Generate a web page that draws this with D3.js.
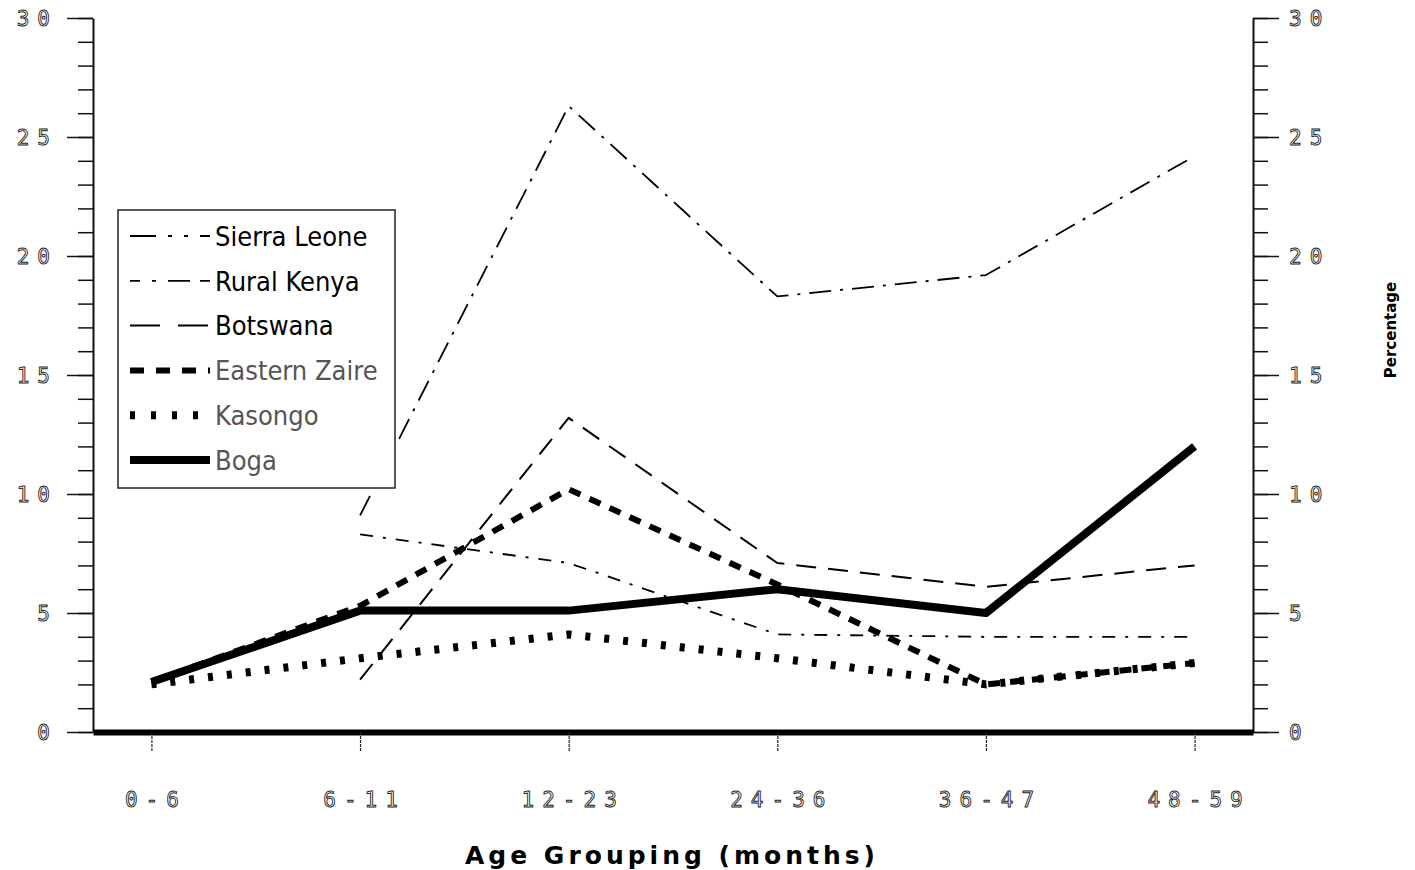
<!DOCTYPE html>
<html>
<head>
<meta charset="utf-8">
<script src="https://cdn.jsdelivr.net/npm/d3@7"></script>
<style>
  body { margin: 0; background: #fff; }
  svg { display: block; }
  .tick-num { font-family: "DejaVu Sans Mono", monospace; font-size: 21px; fill: #fff; stroke: #222; stroke-width: 0.9px; letter-spacing: 8px; }
</style>
</head>
<body>
<script>
// ---------------- data ----------------
const ageGroups = ["0-6", "6-11", "12-23", "24-36", "36-47", "48-59"];
const sierraLeone  = [null, 9.1, 26.3, 18.3, 19.2, 24.2];
const ruralKenya   = [null, 8.3, 7.1, 4.1, 4.0, 4.0];
const botswana     = [null, 2.2, 13.2, 7.1, 6.1, 7.0];
const easternZaire = [2.1, 5.3, 10.2, 6.2, 2.0, 2.9];
const kasongo      = [2.0, 3.1, 4.1, 3.1, 2.0, 2.9];
const boga         = [2.1, 5.1, 5.1, 6.0, 5.0, 12.0];
const yTicks = [0, 5, 10, 15, 20, 25, 30];

const series = [
    { name: "Sierra Leone", values: sierraLeone, width: 1.8, dash: "22,9,3,9", legendDash: "26,12,4,12,4,12" },
    { name: "Rural Kenya", values: ruralKenya, width: 1.8, dash: "13,10,3,10", legendDash: "10,12,4,12,22" },
    { name: "Botswana", values: botswana, width: 2, dash: "20,12", legendDash: "30,18" },
    { name: "Eastern Zaire", values: easternZaire, width: 6, dash: "12,10", legendDash: "14,12" },
    { name: "Kasongo", values: kasongo, width: 8, dash: "5,14", legendDash: "5,16" },
    { name: "Boga", values: boga, width: 8, dash: null, legendDash: null }
];

// ---------------- layout ----------------
const W = 1415, H = 870;
const plotLeft = 93, plotRight = 1253, plotTop = 18, plotBottom = 732;
const spacing = 8; // letter-spacing of the plotter digits

const svg = d3.select("body").append("svg")
    .attr("width", W)
    .attr("height", H);

const x = d3.scalePoint()
    .domain(ageGroups)
    .range([plotLeft, plotRight])
    .padding(0.28);

const y = d3.scaleLinear()
    .domain([0, 30])
    .range([plotBottom, plotTop]);

// ---------------- y axes (minor + major) ----------------
function drawYAxis(axisFn, xpos, labelAnchor, labelDx) {
    svg.append("g")
        .attr("transform", `translate(${xpos},0)`)
        .call(axisFn(y).tickValues(d3.range(0, 31)).tickSize(15).tickSizeOuter(0).tickFormat(""))
        .call(g => g.selectAll("line").attr("stroke", "#111").attr("stroke-width", 1.5))
        .call(g => g.select(".domain").attr("stroke", "#111").attr("stroke-width", 2));

    const major = svg.append("g")
        .attr("transform", `translate(${xpos},0)`)
        .call(axisFn(y).tickValues(yTicks).tickSize(26).tickFormat(""))
        .call(g => g.select(".domain").remove())
        .call(g => g.selectAll("line").attr("stroke", "#111").attr("stroke-width", 1.5));

    major.selectAll(".tick").append("text")
        .attr("class", "tick-num")
        .attr("x", labelDx)
        .attr("dy", "0.35em")
        .attr("text-anchor", labelAnchor)
        .text(d => d);
}
drawYAxis(d3.axisLeft, plotLeft, "end", -35);
drawYAxis(d3.axisRight, plotRight, "start", 36);

// ---------------- x axis ----------------
const xAxis = svg.append("g")
    .attr("transform", `translate(0,${plotBottom})`)
    .call(d3.axisBottom(x).tickSize(20).tickSizeOuter(0).tickPadding(40))
    .call(g => g.select(".domain").attr("stroke", "#000").attr("stroke-width", 6))
    .call(g => g.selectAll(".tick line").attr("stroke", "#222").attr("stroke-width", 1.2).attr("stroke-dasharray", "3,1"));

xAxis.attr("font-size", null).attr("font-family", null);
xAxis.selectAll(".tick text")
    .attr("class", "tick-num")
    .attr("fill", null)
    .attr("dx", spacing / 2);

// ---------------- lines ----------------
const line = d3.line()
    .defined(d => d.v != null)
    .x(d => x(d.cat))
    .y(d => y(d.v));

series.forEach(s => {
    svg.append("path")
        .datum(ageGroups.map((cat, i) => ({ cat, v: s.values[i] })))
        .attr("fill", "none")
        .attr("stroke", "#000")
        .attr("stroke-width", s.width)
        .attr("stroke-dasharray", s.dash)
        .attr("stroke-linejoin", "round")
        .attr("d", line);
});

// ---------------- legend ----------------
const legend = svg.append("g").attr("transform", "translate(118,210)");
legend.append("rect")
    .attr("width", 277)
    .attr("height", 278)
    .attr("fill", "#fff")
    .attr("stroke", "#222")
    .attr("stroke-width", 1.5);

series.forEach((s, i) => {
    const row = legend.append("g").attr("transform", `translate(0,${26 + i * 44.8})`);
    row.append("line")
        .attr("x1", 12).attr("x2", 92)
        .attr("stroke", "#000")
        .attr("stroke-width", s.width)
        .attr("stroke-dasharray", s.legendDash);
    row.append("text")
        .attr("x", 97)
        .attr("dy", "0.36em")
        .attr("font-family", "'Liberation Sans Narrow', 'DejaVu Sans Condensed', sans-serif")
        .attr("font-size", 27)
        .attr("fill", i >= 3 ? "#555" : "#000")
        .text(s.name);
});

// ---------------- axis titles ----------------
svg.append("text")
    .attr("x", 672)
    .attr("y", 864)
    .attr("text-anchor", "middle")
    .attr("font-family", "'DejaVu Sans', sans-serif")
    .attr("font-weight", "bold")
    .attr("font-size", 25)
    .attr("letter-spacing", 4)
    .text("Age Grouping (months)");

svg.append("text")
    .attr("transform", "translate(1396,330) rotate(-90)")
    .attr("text-anchor", "middle")
    .attr("font-family", "'DejaVu Sans', sans-serif")
    .attr("font-weight", "bold")
    .attr("font-size", 15)
    .text("Percentage");
</script>
</body>
</html>
